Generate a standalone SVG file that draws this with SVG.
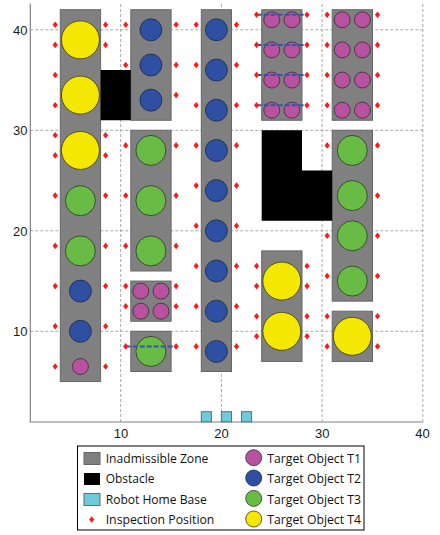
<svg xmlns="http://www.w3.org/2000/svg" xmlns:xlink="http://www.w3.org/1999/xlink" width="440" height="535" viewBox="0 0 440 535">
<style>
.grid{stroke:#a8a8a8;stroke-width:1;stroke-dasharray:3 2;fill:none}
.axis{stroke:#808080;stroke-width:1.2;fill:none}
.tick{font-family:"Liberation Sans",Arial,sans-serif;font-size:13px;fill:#1a1a1a}
.zone{fill:#808080;stroke:#666;stroke-width:1}
.obst{fill:#000}
.home{fill:#6cccdc;stroke:#6a6a6a;stroke-width:1}
.t1{fill:#b8519f;stroke:#3a2a35;stroke-width:0.8}
.t2{fill:#2f50a2;stroke:#1d2a45;stroke-width:0.8}
.t3{fill:#68bb45;stroke:#2a3a22;stroke-width:0.8}
.t4{fill:#f5e800;stroke:#3a3a10;stroke-width:0.8}
.path{stroke:#3556a8;stroke-width:2;stroke-dasharray:5 2;fill:none}
.ip{fill:#ff1a1a}
.leg{font-family:"Open Sans","Liberation Sans",sans-serif;font-size:12px;fill:#111}
</style>
<defs>
<path id="m" class="ip" d="M0,-3.3 L2.6,0 L0,3.3 L-2.6,0 Z"/>
</defs>
<rect width="440" height="535" fill="#fff"/>
<g id="grid">
<line class="grid" x1="120.7" y1="4" x2="120.7" y2="422"/>
<line class="grid" x1="221.4" y1="4" x2="221.4" y2="422"/>
<line class="grid" x1="322.1" y1="4" x2="322.1" y2="422"/>
<line class="grid" x1="422.8" y1="4" x2="422.8" y2="422"/>
<line class="grid" x1="30.3" y1="29.8" x2="422.8" y2="29.8"/>
<line class="grid" x1="30.3" y1="130.3" x2="422.8" y2="130.3"/>
<line class="grid" x1="30.3" y1="230.8" x2="422.8" y2="230.8"/>
<line class="grid" x1="30.3" y1="331.3" x2="422.8" y2="331.3"/>
</g>
<g id="axes">
<polyline class="axis" points="30.3,3.5 30.3,422 422.8,422"/>
<text class="tick" x="27.5" y="34.5" text-anchor="end">40</text>
<text class="tick" x="27.5" y="135" text-anchor="end">30</text>
<text class="tick" x="27.5" y="235.5" text-anchor="end">20</text>
<text class="tick" x="27.5" y="336" text-anchor="end">10</text>
<text class="tick" x="121" y="438" text-anchor="middle">10</text>
<text class="tick" x="221.6" y="438" text-anchor="middle">20</text>
<text class="tick" x="322.3" y="438" text-anchor="middle">30</text>
<text class="tick" x="422.5" y="438" text-anchor="middle">40</text>
</g>
<g id="zones">
<rect id="zone-1" class="zone" x="60.3" y="9.7" width="40.3" height="371.85"/>
<rect id="zone-2a" class="zone" x="130.8" y="9.7" width="40.3" height="110.55"/>
<rect id="zone-2b" class="zone" x="130.8" y="130.3" width="40.3" height="140.7"/>
<rect id="zone-2c" class="zone" x="130.8" y="281.05" width="40.3" height="40.2"/>
<rect id="zone-2d" class="zone" x="130.8" y="331.3" width="40.3" height="40.2"/>
<rect id="zone-3" class="zone" x="201.3" y="9.7" width="30.2" height="361.8"/>
<rect id="zone-4a" class="zone" x="261.7" y="9.7" width="40.3" height="110.55"/>
<rect id="zone-4b" class="zone" x="261.7" y="250.9" width="40.3" height="110.55"/>
<rect id="zone-5a" class="zone" x="332.2" y="9.7" width="40.3" height="110.55"/>
<rect id="zone-5b" class="zone" x="332.2" y="130.3" width="40.3" height="170.85"/>
<rect id="zone-5c" class="zone" x="332.2" y="311.2" width="40.3" height="50.25"/>
</g>
<g id="obstacles">
<rect id="obstacle-1" class="obst" x="100.6" y="70" width="30.2" height="50.25"/>
<polygon id="obstacle-2" class="obst" points="261.7,130.3 302,130.3 302,170.5 332.2,170.5 332.2,220.75 261.7,220.75"/>
</g>
<g id="home-bases">
<rect id="home-1" class="home" x="201.3" y="411.7" width="10.1" height="10.1"/>
<rect id="home-2" class="home" x="221.4" y="411.7" width="10.1" height="10.1"/>
<rect id="home-3" class="home" x="241.5" y="411.7" width="10.1" height="10.1"/>
</g>
<g id="targets">
<circle class="t4" cx="80.4" cy="39.85" r="19"/>
<circle class="t4" cx="80.4" cy="95.1" r="19"/>
<circle class="t4" cx="80.4" cy="150.4" r="19"/>
<circle class="t3" cx="80.4" cy="200.65" r="15"/>
<circle class="t3" cx="80.4" cy="250.9" r="15"/>
<circle class="t2" cx="80.4" cy="291.1" r="11"/>
<circle class="t2" cx="80.4" cy="331.3" r="11"/>
<circle class="t1" cx="80.4" cy="366.5" r="8"/>
<circle class="t2" cx="150.9" cy="29.8" r="11"/>
<circle class="t2" cx="150.9" cy="65" r="11"/>
<circle class="t2" cx="150.9" cy="100.15" r="11"/>
<circle class="t3" cx="150.9" cy="150.4" r="15"/>
<circle class="t3" cx="150.9" cy="200.65" r="15"/>
<circle class="t3" cx="150.9" cy="250.9" r="15"/>
<circle class="t1" cx="140.8" cy="291.1" r="8"/>
<circle class="t1" cx="161" cy="291.1" r="8"/>
<circle class="t1" cx="140.8" cy="311.2" r="8"/>
<circle class="t1" cx="161" cy="311.2" r="8"/>
<circle class="t3" cx="150.9" cy="351.4" r="15"/>
<circle class="t2" cx="216.4" cy="29.8" r="11"/>
<circle class="t2" cx="216.4" cy="70" r="11"/>
<circle class="t2" cx="216.4" cy="110.2" r="11"/>
<circle class="t2" cx="216.4" cy="150.4" r="11"/>
<circle class="t2" cx="216.4" cy="190.6" r="11"/>
<circle class="t2" cx="216.4" cy="230.8" r="11"/>
<circle class="t2" cx="216.4" cy="271" r="11"/>
<circle class="t2" cx="216.4" cy="311.2" r="11"/>
<circle class="t2" cx="216.4" cy="351.4" r="11"/>
<circle class="t1" cx="271.8" cy="19.75" r="8"/>
<circle class="t1" cx="291.9" cy="19.75" r="8"/>
<circle class="t1" cx="271.8" cy="49.9" r="8"/>
<circle class="t1" cx="291.9" cy="49.9" r="8"/>
<circle class="t1" cx="271.8" cy="80.05" r="8"/>
<circle class="t1" cx="291.9" cy="80.05" r="8"/>
<circle class="t1" cx="271.8" cy="110.2" r="8"/>
<circle class="t1" cx="291.9" cy="110.2" r="8"/>
<circle class="t4" cx="281.8" cy="281.05" r="19"/>
<circle class="t4" cx="281.8" cy="331.3" r="19"/>
<circle class="t1" cx="342.2" cy="19.75" r="8"/>
<circle class="t1" cx="362.4" cy="19.75" r="8"/>
<circle class="t1" cx="342.2" cy="49.9" r="8"/>
<circle class="t1" cx="362.4" cy="49.9" r="8"/>
<circle class="t1" cx="342.2" cy="80.05" r="8"/>
<circle class="t1" cx="362.4" cy="80.05" r="8"/>
<circle class="t1" cx="342.2" cy="110.2" r="8"/>
<circle class="t1" cx="362.4" cy="110.2" r="8"/>
<circle class="t3" cx="352.3" cy="150.4" r="15"/>
<circle class="t3" cx="352.3" cy="195.6" r="15"/>
<circle class="t3" cx="352.3" cy="235.8" r="15"/>
<circle class="t3" cx="352.3" cy="281.05" r="15"/>
<circle class="t4" cx="352.3" cy="336.3" r="19"/>
</g>
<g id="connectors">
<line class="path" x1="256.6" y1="14.7" x2="307" y2="14.7"/>
<line class="path" x1="256.6" y1="44.9" x2="307" y2="44.9"/>
<line class="path" x1="256.6" y1="75" x2="307" y2="75"/>
<line class="path" x1="256.6" y1="105.2" x2="307" y2="105.2"/>
<line class="path" x1="125.7" y1="346.4" x2="176.1" y2="346.4"/>
</g>
<g id="inspection-positions">
<use href="#m" x="55.2" y="24.8"/><use href="#m" x="55.2" y="44.9"/><use href="#m" x="55.2" y="75"/><use href="#m" x="55.2" y="105.2"/><use href="#m" x="55.2" y="135.3"/><use href="#m" x="55.2" y="155.4"/><use href="#m" x="55.2" y="195.6"/><use href="#m" x="55.2" y="245.9"/><use href="#m" x="55.2" y="286.1"/><use href="#m" x="55.2" y="326.3"/><use href="#m" x="55.2" y="366.5"/>
<use href="#m" x="105.6" y="24.8"/><use href="#m" x="105.6" y="44.9"/><use href="#m" x="105.6" y="135.3"/><use href="#m" x="105.6" y="155.4"/><use href="#m" x="105.6" y="195.6"/><use href="#m" x="105.6" y="245.9"/><use href="#m" x="105.6" y="286.1"/><use href="#m" x="105.6" y="326.3"/><use href="#m" x="105.6" y="366.5"/>
<use href="#m" x="125.7" y="24.8"/><use href="#m" x="125.7" y="65"/><use href="#m" x="125.7" y="145.4"/><use href="#m" x="125.7" y="195.6"/><use href="#m" x="125.7" y="245.9"/><use href="#m" x="125.7" y="286.1"/><use href="#m" x="125.7" y="306.2"/><use href="#m" x="125.7" y="346.4"/>
<use href="#m" x="176.1" y="24.8"/><use href="#m" x="176.1" y="65"/><use href="#m" x="176.1" y="95.1"/><use href="#m" x="176.1" y="145.4"/><use href="#m" x="176.1" y="195.6"/><use href="#m" x="176.1" y="245.9"/><use href="#m" x="176.1" y="286.1"/><use href="#m" x="176.1" y="306.2"/><use href="#m" x="176.1" y="346.4"/>
<use href="#m" x="196.2" y="24.8"/><use href="#m" x="196.2" y="65"/><use href="#m" x="196.2" y="105.2"/><use href="#m" x="196.2" y="145.4"/><use href="#m" x="196.2" y="185.6"/><use href="#m" x="196.2" y="225.8"/><use href="#m" x="196.2" y="266"/><use href="#m" x="196.2" y="306.2"/><use href="#m" x="196.2" y="346.4"/>
<use href="#m" x="236.5" y="24.8"/><use href="#m" x="236.5" y="65"/><use href="#m" x="236.5" y="105.2"/><use href="#m" x="236.5" y="145.4"/><use href="#m" x="236.5" y="185.6"/><use href="#m" x="236.5" y="225.8"/><use href="#m" x="236.5" y="266"/><use href="#m" x="236.5" y="306.2"/><use href="#m" x="236.5" y="346.4"/>
<use href="#m" x="256.6" y="14.7"/><use href="#m" x="256.6" y="44.9"/><use href="#m" x="256.6" y="75"/><use href="#m" x="256.6" y="105.2"/>
<use href="#m" x="307" y="14.7"/><use href="#m" x="307" y="44.9"/><use href="#m" x="307" y="75"/><use href="#m" x="307" y="105.2"/>
<use href="#m" x="256.6" y="266"/><use href="#m" x="256.6" y="286.1"/><use href="#m" x="256.6" y="316.2"/><use href="#m" x="256.6" y="336.3"/>
<use href="#m" x="307" y="266"/><use href="#m" x="307" y="286.1"/><use href="#m" x="307" y="316.2"/><use href="#m" x="307" y="336.3"/>
<use href="#m" x="327.1" y="14.7"/><use href="#m" x="327.1" y="44.9"/><use href="#m" x="327.1" y="75"/><use href="#m" x="327.1" y="105.2"/>
<use href="#m" x="377.5" y="14.7"/><use href="#m" x="377.5" y="44.9"/><use href="#m" x="377.5" y="75"/><use href="#m" x="377.5" y="105.2"/>
<use href="#m" x="327.1" y="145.4"/><use href="#m" x="327.1" y="235.8"/><use href="#m" x="327.1" y="276"/>
<use href="#m" x="377.5" y="145.4"/><use href="#m" x="377.5" y="195.6"/><use href="#m" x="377.5" y="235.8"/><use href="#m" x="377.5" y="276"/>
<use href="#m" x="327.1" y="316.2"/><use href="#m" x="327.1" y="346.4"/>
<use href="#m" x="377.5" y="316.2"/><use href="#m" x="377.5" y="346.4"/>
</g>
<g id="legend">
<rect x="77.5" y="446" width="286.5" height="84" fill="#fff" stroke="#000" stroke-width="1"/>
<rect class="zone" x="84" y="452.5" width="16" height="12"/>
<rect class="obst" x="84" y="473" width="16" height="12"/>
<rect class="home" x="84" y="493.5" width="16" height="12"/>
<use href="#m" x="91.7" y="519.5"/>
<text class="leg" x="105.7" y="462.7" textLength="102.7" lengthAdjust="spacingAndGlyphs">Inadmissible Zone</text>
<text class="leg" x="105.7" y="483.2" textLength="48.7" lengthAdjust="spacingAndGlyphs">Obstacle</text>
<text class="leg" x="105.7" y="503.5" textLength="101" lengthAdjust="spacingAndGlyphs">Robot Home Base</text>
<text class="leg" x="105.7" y="524" textLength="108.7" lengthAdjust="spacingAndGlyphs">Inspection Position</text>
<circle class="t1" cx="253.7" cy="457.7" r="8"/>
<circle class="t2" cx="253.7" cy="478" r="8"/>
<circle class="t3" cx="253.7" cy="498.4" r="8"/>
<circle class="t4" cx="253.7" cy="519" r="8"/>
<text class="leg" x="267.3" y="462.7" textLength="93.7" lengthAdjust="spacingAndGlyphs">Target Object T1</text>
<text class="leg" x="267.3" y="483.2" textLength="93.7" lengthAdjust="spacingAndGlyphs">Target Object T2</text>
<text class="leg" x="267.3" y="503.5" textLength="93.7" lengthAdjust="spacingAndGlyphs">Target Object T3</text>
<text class="leg" x="267.3" y="524" textLength="93.7" lengthAdjust="spacingAndGlyphs">Target Object T4</text>
</g>
</svg>
